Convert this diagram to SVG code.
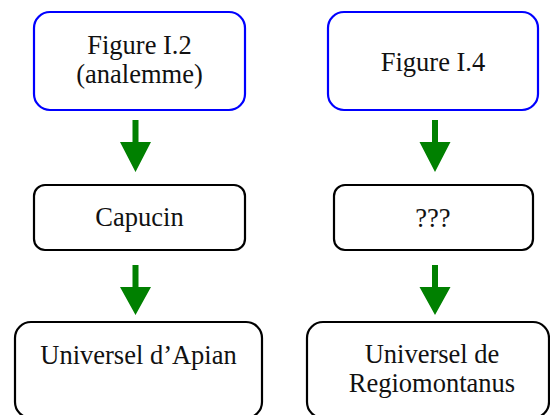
<svg xmlns="http://www.w3.org/2000/svg" width="550" height="415" viewBox="0 0 550 415">
<style>
.blue{fill:#fff;stroke:#0000ff;stroke-width:2.2}
.blk{fill:#fff;stroke:#000;stroke-width:2.2}
.t{font-family:'Liberation Serif','DejaVu Serif',serif;font-size:26.5px;fill:#111;text-anchor:middle}
.arr{fill:#008000}
</style>
<rect width="550" height="415" fill="#fff"/>
<g id="n1"><rect class="blue" x="34" y="12" width="211" height="98" rx="16"/>
<text class="t" x="139.5" y="54">Figure I.2</text><text class="t" x="139.5" y="83">(analemme)</text></g>
<g id="n2"><rect class="blue" x="328" y="12" width="210" height="98" rx="16"/>
<text class="t" x="433" y="70.5">Figure I.4</text></g>
<g id="n3"><rect class="blk" x="34" y="185" width="211" height="65" rx="11"/>
<text class="t" x="139.5" y="226">Capucin</text></g>
<g id="n4"><rect class="blk" x="334" y="185" width="199" height="65" rx="11"/>
<text class="t" x="433" y="227">???</text></g>
<g id="n5"><rect class="blk" x="15" y="322" width="247" height="96" rx="16"/>
<text class="t" x="138.5" y="364">Universel d’Apian</text></g>
<g id="n6"><rect class="blk" x="307" y="322" width="242" height="96" rx="16"/>
<text class="t" x="432" y="363">Universel de</text><text class="t" x="432" y="392">Regiomontanus</text></g>
<g id="connectors">
<path class="arr" d="M132.5,120 H138.5 V142 H151 L135.5,172 L120,142 H132.5 Z"/>
<path class="arr" d="M432,120 H438 V142 H450.5 L435,172 L419.5,142 H432 Z"/>
<path class="arr" d="M132.5,265 H138.5 V287 H151 L135.5,315 L120,287 H132.5 Z"/>
<path class="arr" d="M432,265 H438 V287 H450.5 L435,315 L419.5,287 H432 Z"/>
</g>
</svg>
